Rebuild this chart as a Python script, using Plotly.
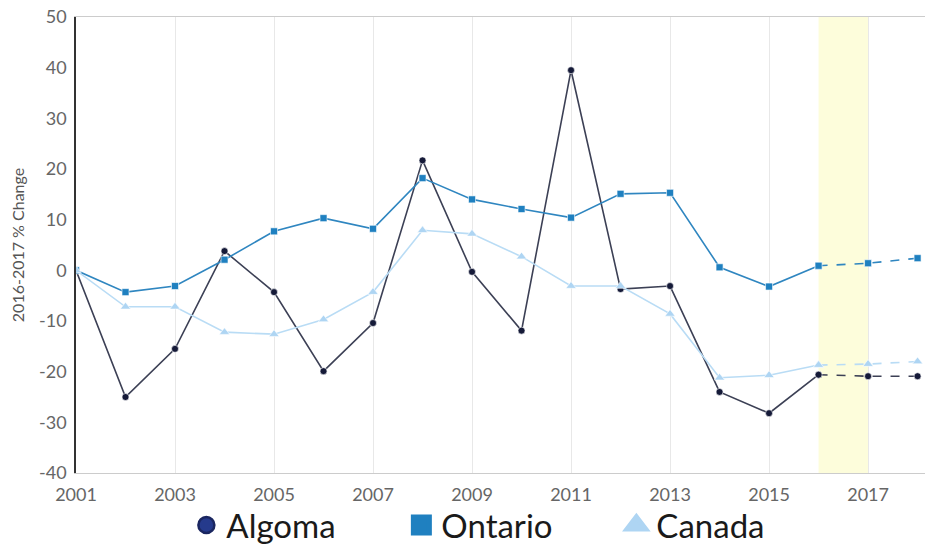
import plotly.graph_objects as go

years = list(range(2001, 2019))
algoma = [0, -25.0, -15.5, 3.8, -4.3, -19.9, -10.4, 21.7, -0.3, -11.9, 39.5, -3.7, -3.1, -24.0, -28.2, -20.6, -20.9, -20.9]
ontario = [0, -4.3, -3.1, 2.1, 7.7, 10.3, 8.2, 18.2, 14.0, 12.1, 10.4, 15.1, 15.3, 0.6, -3.2, 0.9, 1.4, 2.4]
canada = [0, -7.2, -7.2, -12.2, -12.6, -9.7, -4.3, 7.9, 7.2, 2.7, -3.1, -3.1, -8.6, -21.2, -20.7, -18.7, -18.5, -18.0]
tick_years = list(range(2001, 2018, 2))
y_ticks = list(range(-40, 51, 10))
highlight = [2016, 2017]
split_year = 2016

series = [
    ("Algoma", algoma, "circle", 7, "#151a38", "#3c4055", "#253a8c", "#1a2660", 2.5),
    ("Ontario", ontario, "square", 7, "#1f80c0", "#2f86c0", "#1f80c0", "#1f80c0", 5),
    ("Canada", canada, "triangle-up", 9, "#aed5f3", "#b9dcf5", "#aed5f3", "#aed5f3", 5),
]

fig = go.Figure()
k = years.index(split_year)
for name, vals, sym, size, mcol, lcol, legcol, leglinecol, leglw in series:
    fig.add_trace(go.Scatter(
        x=years[:k + 1], y=vals[:k + 1], mode="lines+markers", name=name,
        line=dict(color=lcol, width=1.6),
        marker=dict(symbol=sym, size=size, color=mcol, line=dict(width=0.6, color="white")),
        showlegend=False, hoverinfo="x+y"))
    fig.add_trace(go.Scatter(
        x=years[k:], y=vals[k:], mode="lines+markers", name=name,
        line=dict(color=lcol, width=1.6, dash="dash"),
        marker=dict(symbol=sym, size=size, color=mcol, line=dict(width=0.6, color="white")),
        showlegend=False, hoverinfo="x+y"))
    # legend entry
    fig.add_trace(go.Scatter(
        x=[None], y=[None], mode="markers", name=name,
        marker=dict(symbol=sym, size=16, color=legcol,
                    line=dict(width=leglw, color=leglinecol)),
        showlegend=True))

fig.add_shape(type="rect", xref="x", yref="y", x0=highlight[0], x1=highlight[1],
              y0=y_ticks[0], y1=y_ticks[-1], fillcolor="#fdfddb", line=dict(width=0),
              layer="below")

# page body adds an 8px margin, so the figure is sized to fit the window
fig.update_layout(
    width=925, height=536,
    margin=dict(l=68, r=8, t=9, b=71, autoexpand=False),
    plot_bgcolor="white", paper_bgcolor="white",
    font=dict(family="Lato, Liberation Sans, sans-serif", color="#666666"),
    legend=dict(orientation="h", x=0.13, xanchor="left", y=-0.114, yanchor="middle",
                bgcolor="rgba(0,0,0,0)",
                font=dict(size=33, color="#1a1a1a", family="Lato, Liberation Sans Narrow, sans-serif"),
                entrywidth=170, entrywidthmode="pixels", itemwidth=30, tracegroupgap=0),
    xaxis=dict(range=[2001, 2018.15], tickvals=tick_years, ticktext=[str(t) for t in tick_years],
               showgrid=True, gridcolor="#e8e8e8", gridwidth=1,
               showline=True, linecolor="#cccccc", linewidth=1, mirror=True,
               zeroline=False, ticks="outside", ticklen=5, tickcolor="rgba(0,0,0,0)",
               automargin=False, ticklabeloverflow="allow",
               tickfont=dict(size=18, color="#666666")),
    yaxis=dict(range=[-40, 50], tickvals=y_ticks, ticktext=[str(v) for v in y_ticks],
               showgrid=False, zeroline=False,
               showline=True, linecolor="#333333", linewidth=1.5,
               ticks="outside", ticklen=4, tickcolor="rgba(0,0,0,0)",
               automargin=False, ticklabeloverflow="allow",
               tickfont=dict(size=18, color="#666666"),
               title=dict(text="2016-2017 % Change", standoff=10,
                          font=dict(size=16, color="#555555", family="Liberation Sans Narrow, Lato, sans-serif"))),
)

fig.write_html("out.html")
